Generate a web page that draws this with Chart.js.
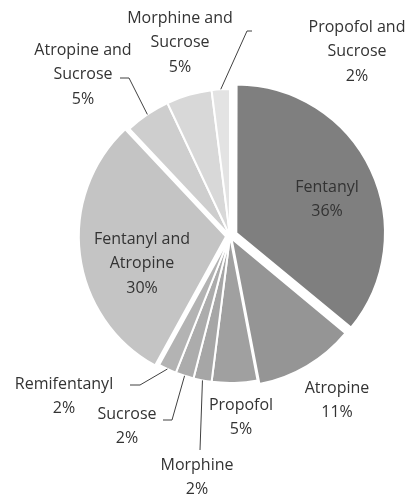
<!DOCTYPE html>
<html>
<head>
<meta charset="utf-8">
<style>
  html, body { margin: 0; padding: 0; background: #fff; }
  #wrap { width: 416px; height: 496px; }
</style>
</head>
<body>
<div id="wrap"><canvas id="myChartPie"></canvas></div>
<script src="https://cdn.jsdelivr.net/npm/chart.js@4.4.0/dist/chart.umd.min.js"></script>
<script>
// Datos del grafico
var categories = ["Fentanyl", "Atropine", "Propofol", "Morphine", "Sucrose", "Remifentanyl",
  "Fentanyl and Atropine", "Atropine and Sucrose", "Morphine and Sucrose", "Propofol and Sucrose"];
var percentages = [36, 11, 5, 2, 2, 2, 30, 5, 5, 2];
var labelLines = [["Fentanyl"], ["Atropine"], ["Propofol"], ["Morphine"], ["Sucrose"], ["Remifentanyl"],
  ["Fentanyl and", "Atropine"], ["Atropine and", "Sucrose"], ["Morphine and", "Sucrose"], ["Propofol and", "Sucrose"]];

// Estilo
var colores = ["#7f7f7f", "#959595", "#a0a0a0", "#a6a6a6", "#acacac", "#b3b3b3",
  "#c4c4c4", "#cecece", "#d8d8d8", "#e3e3e3"];
var offsets = [28, 12, 0, 0, 0, 0, 16, 0, 0, 0];
var fuente = "16px 'Open Sans'";
var lineHeight = 24.5;
var textColor = "#333333";

// posicion de cada etiqueta (centro de la primera linea) y lineas guia
var layout = [
  { x: 327, y: 187 },
  { x: 337, y: 388 },
  { x: 241, y: 405 },
  { x: 197, y: 465, guide: [[200, 450]] },
  { x: 127, y: 414, guide: [[172, 420], [163, 420]] },
  { x: 64, y: 384, guide: [[140, 385], [130, 385]] },
  { x: 142, y: 239 },
  { x: 83, y: 50, guide: [[129, 78], [120, 78]] },
  { x: 180, y: 18 },
  { x: 357, y: 27, guide: [[247, 31], [252, 31]] }
];

var etiquetas = {
  id: "etiquetas",
  afterDatasetsDraw: function(chart) {
    var ctx = chart.ctx;
    var meta = chart.getDatasetMeta(0);
    ctx.save();
    ctx.font = fuente;
    ctx.fillStyle = textColor;
    ctx.strokeStyle = "#404040";
    ctx.lineWidth = 1;
    ctx.textAlign = "center";
    ctx.textBaseline = "middle";
    meta.data.forEach(function(arc, i) {
      var p = arc.getProps(["x", "y", "startAngle", "endAngle", "outerRadius"], true);
      var mid = (p.startAngle + p.endAngle) / 2;
      var r = p.outerRadius + offsets[i] / 4;
      var pos = layout[i];
      if (pos.guide) {
        ctx.beginPath();
        ctx.moveTo(p.x + Math.cos(mid) * r, p.y + Math.sin(mid) * r);
        pos.guide.forEach(function(pt) { ctx.lineTo(pt[0], pt[1]); });
        ctx.stroke();
      }
      var lines = labelLines[i].concat([percentages[i] + "%"]);
      lines.forEach(function(txt, k) {
        ctx.fillText(txt, pos.x, pos.y + k * lineHeight);
      });
    });
    ctx.restore();
  }
};

var pieChartCanva = document.getElementById("myChartPie");

var pieChart = new Chart(pieChartCanva, {
  type: "pie",
  data: {
    labels: categories,
    datasets: [{
      data: percentages,
      backgroundColor: colores,
      borderColor: "#ffffff",
      borderWidth: 2,
      offset: offsets,
      radius: 147
    }]
  },
  options: {
    responsive: true,
    maintainAspectRatio: false,
    animation: false,
    layout: { padding: { left: 54, right: 10, top: 40, bottom: 64 } },
    plugins: {
      legend: { display: false },
      tooltip: { enabled: false }
    }
  },
  plugins: [etiquetas]
});
</script>
</body>
</html>
